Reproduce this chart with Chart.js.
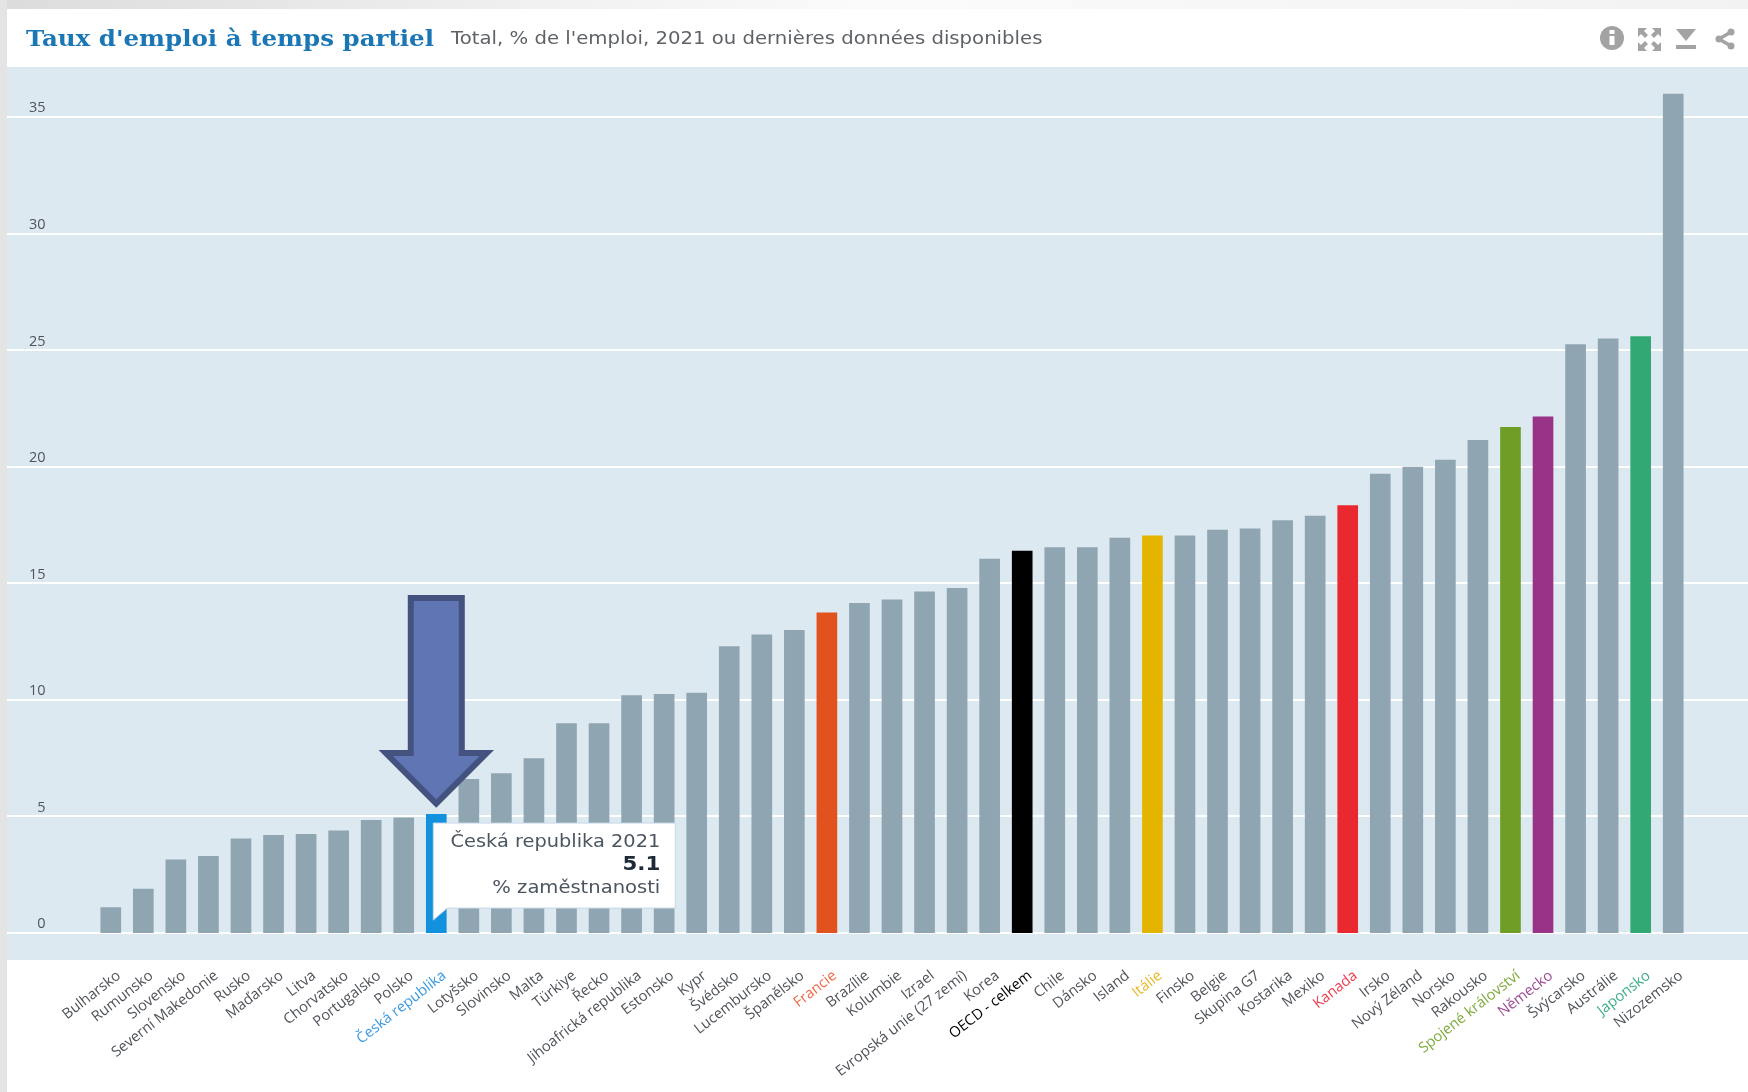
<!DOCTYPE html>
<html><head><meta charset="utf-8">
<style>
html,body{margin:0;padding:0;background:#fff;width:1748px;height:1092px;overflow:hidden}
#wrap{position:relative;width:1748px;height:1092px}
#topband{position:absolute;left:0;top:0;width:1748px;height:9px;background:linear-gradient(90deg,#dcdcdc 0,#f0f0f0 30%,#fbfbfb 50%,#f2f2f2 100%)}
#leftband{position:absolute;left:0;top:0;width:7px;height:1092px;background:#e4e4e4}
canvas{position:absolute;left:0;top:0}
#title{position:absolute;left:26px;top:21px;font:bold 22.5px "DejaVu Serif";color:#1a76b5;white-space:nowrap;line-height:34px;transform-origin:0 50%;transform:scaleX(1.09)}
#sub{position:absolute;left:451px;top:21px;font:17.2px "DejaVu Sans";color:#5e6266;white-space:nowrap;line-height:34px;transform-origin:0 50%;transform:scaleX(1.145)}
#icons{position:absolute;left:1590px;top:20px}
</style></head><body>
<div id="wrap">
<canvas id="c" width="1748" height="1092"></canvas>
<div id="topband"></div><div id="leftband"></div>
<div id="title">Taux d'emploi à temps partiel</div>
<div id="sub">Total, % de l'emploi, 2021 ou dernières données disponibles</div>
<svg id="icons" width="150" height="36" viewBox="0 0 150 36">
<circle cx="22" cy="18" r="12" fill="#a3a3a3"/>
<rect x="19.5" y="16" width="5" height="9" fill="#fff"/><rect x="19.5" y="10" width="5" height="4" fill="#fff"/>
<g fill="#a3a3a3"><path d="M48 8h9l-3 3 4 4-3 3-4-4-3 3zM71 8h-9l3 3-4 4 3 3 4-4 3 3zM48 31h9l-3-3 4-4-3-3-4 4-3-3zM71 31h-9l3-3-4-4 3-3 4 4 3-3z"/>
<path d="M86 9h20l-10 12z"/><rect x="86" y="25" width="20" height="4"/></g>
<g stroke="#a3a3a3" stroke-width="3.5" fill="none"><path d="M141 12l-12 7 12 7"/></g>
<g fill="#a3a3a3"><circle cx="141" cy="12" r="3.5"/><circle cx="129" cy="19" r="3.5"/><circle cx="141" cy="26" r="3.5"/></g>
</svg>
</div>
<script src="https://cdn.jsdelivr.net/npm/chart.js@4"></script>
<script>
const categories = ["Bulharsko","Rumunsko","Slovensko","Severní Makedonie","Rusko","Maďarsko","Litva","Chorvatsko","Portugalsko","Polsko","Česká republika","Lotyšsko","Slovinsko","Malta","Türkiye","Řecko","Jihoafrická republika","Estonsko","Kypr","Švédsko","Lucembursko","Španělsko","Francie","Brazílie","Kolumbie","Izrael","Evropská unie (27 zemí)","Korea","OECD - celkem","Chile","Dánsko","Island","Itálie","Finsko","Belgie","Skupina G7","Kostarika","Mexiko","Kanada","Irsko","Nový Zéland","Norsko","Rakousko","Spojené království","Německo","Švýcarsko","Austrálie","Japonsko","Nizozemsko"];
const values = [1.1,1.9,3.15,3.3,4.05,4.2,4.25,4.4,4.85,4.95,5.1,6.6,6.85,7.5,9.0,9.0,10.2,10.25,10.3,12.3,12.8,13.0,13.75,14.15,14.3,14.65,14.8,16.05,16.4,16.55,16.55,16.95,17.05,17.05,17.3,17.35,17.7,17.9,18.35,19.7,20.0,20.3,21.15,21.7,22.15,25.25,25.5,25.6,36.0];
const barColours = {"Česká republika":"#1291de","Francie":"#e2521f","OECD - celkem":"#000000","Itálie":"#e3b400","Kanada":"#e9282f","Spojené království":"#6f9e27","Německo":"#993388","Japonsko":"#32a874"};
const labelColours = {"Česká republika":"#3d9be0","Francie":"#ee6a4a","OECD - celkem":"#000000","Itálie":"#e8b92c","Kanada":"#ee3f50","Spojené království":"#7fab3c","Německo":"#9c4a94","Japonsko":"#3fae85"};
const defaultBar = "#8fa5b2", defaultLabel = "#50545a";
const yTicks = [0,5,10,15,20,25,30,35];
const highlight = "Česká republika";
const tooltipLines = ["Česká republika 2021","5.1","% zaměstnanosti"];

const panel = {
  id:'panel',
  beforeDraw(ch){
    const {ctx,scales:{y}} = ch;
    ctx.save();
    ctx.fillStyle='#dde9f1';
    ctx.fillRect(7,67,1741,893);
    ctx.strokeStyle='#ffffff';ctx.lineWidth=2;
    yTicks.forEach(v=>{
      const p=Math.round(y.getPixelForValue(v));
      ctx.beginPath();ctx.moveTo(7,p);ctx.lineTo(1748,p);ctx.stroke();
    });
    ctx.restore();
  }
};
const overlay = {
  id:'overlay',
  afterDatasetsDraw(ch){
    const {ctx,scales:{x,y}} = ch;
    const i = categories.indexOf(highlight);
    const cx = x.getPixelForValue(i), top = y.getPixelForValue(values[i]);
    ctx.save();
    // arrow
    const tipY = top-7;
    ctx.beginPath();
    ctx.moveTo(cx,tipY-3.5);
    ctx.lineTo(cx-50.5,tipY-54);ctx.lineTo(cx-25.5,tipY-54);
    ctx.lineTo(cx-25.5,tipY-209);ctx.lineTo(cx+25.5,tipY-209);
    ctx.lineTo(cx+25.5,tipY-54);ctx.lineTo(cx+50.5,tipY-54);
    ctx.closePath();
    ctx.fillStyle='#6075b4';ctx.fill();
    ctx.lineWidth=6;ctx.strokeStyle='#43527f';ctx.lineJoin='miter';ctx.stroke();
    // tooltip
    const L=cx-3, T=top+9, R=L+242, B=T+85;
    ctx.beginPath();
    ctx.moveTo(L,T);ctx.lineTo(R,T);ctx.lineTo(R,B);ctx.lineTo(L+14,B);ctx.lineTo(L,B+12);ctx.closePath();
    ctx.fillStyle='#ffffff';ctx.fill();
    ctx.lineWidth=1;ctx.strokeStyle='#c5d8e6';ctx.stroke();
    ctx.textAlign='right';ctx.textBaseline='middle';
    const tx=R-15;
    const line=(txt,font,col,yy,sx)=>{
      ctx.save();ctx.translate(tx,yy);ctx.scale(sx,1);
      ctx.font=font;ctx.fillStyle=col;ctx.fillText(txt,0,0);ctx.restore();
    };
    line(tooltipLines[0],'17px "DejaVu Sans"','#4a5560',T+19,1.14);
    line(tooltipLines[1],'bold 20px "DejaVu Sans"','#1d2b38',T+42,1.07);
    line(tooltipLines[2],'17px "DejaVu Sans"','#4a5560',T+65,1.15);
    ctx.restore();
  }
};
new Chart(document.getElementById('c'),{
  type:'bar',
  data:{labels:categories,datasets:[{
    data:values,
    backgroundColor:categories.map(c=>barColours[c]||defaultBar),
    categoryPercentage:1,barPercentage:0.635,borderWidth:0
  }]},
  plugins:[panel,overlay],
  options:{
    responsive:false,animation:false,
    layout:{padding:{left:0,right:58.5,top:82,bottom:0}},
    plugins:{legend:{display:false},tooltip:{enabled:false},title:{display:false}},
    scales:{
      x:{
        afterFit(s){s.height=159;},
        grid:{display:false,drawTicks:false},border:{display:false},
        ticks:{autoSkip:false,minRotation:38,maxRotation:38,padding:34,labelOffset:8,
          color:c=>labelColours[categories[c.index]]||defaultLabel,
          font:{family:'"Open Sans"',size:14.7}}
      },
      y:{
        min:0,max:36.5,
        afterFit(s){s.width=94.5;},
        grid:{display:false,drawTicks:false},border:{display:false},
        ticks:{stepSize:5,includeBounds:false,padding:49,color:'#50545a',
          font:{family:'"Open Sans"',size:14.5},
          callback:v=>[String(v),'']}
      }
    }
  }
});
</script>
</body></html>
